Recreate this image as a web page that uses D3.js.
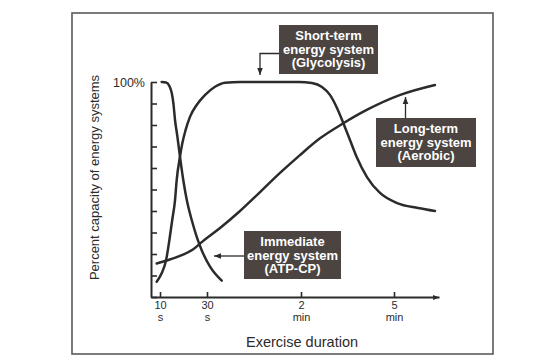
<!DOCTYPE html>
<html>
<head>
<meta charset="utf-8">
<script src="https://cdn.jsdelivr.net/npm/d3@7"></script>
<style>
  html, body { margin: 0; padding: 0; background: #fff; }
  svg { display: block; font-family: "Liberation Sans", Arial, sans-serif; }
</style>
</head>
<body>
<svg id="chart" width="558" height="364"></svg>
<script>
// ---- Data (time in seconds, value in % of capacity) ----
const xBreaks = [6.2, 10, 30, 120, 300, 383];          // non-linear time axis break points
const xTickValues = [10, 30, 120, 300];
const xTickNumbers = ["10", "30", "2", "5"];
const xTickUnits = ["s", "s", "min", "min"];
const yTickValues = [0, 10, 20, 30, 40, 50, 60, 70, 80, 90, 100];
const yTickLabel = "100%";

const atpTime = [10.7, 12.6, 14.0, 15.0, 15.7, 16.4, 17.4, 18.5, 19.9, 21.4, 23.5, 25.6, 27.7, 32.9, 44.1];
const atpValue = [100, 99.8, 98.1, 94.9, 90.1, 82.3, 74.6, 65.3, 54.4, 45.1, 35.8, 28.1, 21.9, 14.1, 7.6];

const glyTime = [8.6, 10.7, 12.6, 14.0, 15.2, 16.4, 17.1, 18.5, 19.5, 20.9, 22.8, 25.6, 29.1, 37.7, 47.3, 61.7, 118, 141, 160.6, 176, 189.7, 201, 214.8, 228, 247.7, 272.9, 305.8, 344.5, 375.5];
const glyValue = [7.1, 11.0, 17.2, 26.5, 35.8, 45.1, 54.4, 65.3, 71.5, 77.7, 83.9, 89.3, 93.9, 97.8, 99.7, 100, 100, 99.5, 97.7, 94, 87.9, 81.4, 73, 65, 55.8, 48.4, 43.7, 41.4, 40];

const aerTime = [8.6, 12.9, 18.5, 24.0, 28.3, 42.5, 61.6, 80.8, 99.9, 119, 156.8, 201.9, 247.2, 311.6, 375.5];
const aerValue = [15.6, 17.0, 19.1, 22.1, 26.0, 32.1, 40.0, 48.8, 57.7, 66.0, 73.8, 80.8, 87.0, 94.0, 98.6];

const labelShort = ["Short-term", "energy system", "(Glycolysis)"];
const labelLong = ["Long-term", "energy system", "(Aerobic)"];
const labelImmediate = ["Immediate", "energy system", "(ATP-CP)"];
const yTitle = "Percent capacity of energy systems";
const xTitle = "Exercise duration";

// ---- Drawing ----
const svg = d3.select("#chart");
const ink = "#2b2b2b";
const boxFill = "#4b4441";

const x = d3.scaleLinear().domain(xBreaks).range([151, 160, 207, 301, 394, 439]);
const y = d3.scaleLinear().domain([0, 100]).range([297, 82]);

const defs = svg.append("defs");
defs.append("marker").attr("id", "arrow").attr("viewBox", "0 0 10 10")
  .attr("refX", 10).attr("refY", 5).attr("markerWidth", 7).attr("markerHeight", 7)
  .attr("markerUnits", "userSpaceOnUse").attr("orient", "auto")
  .append("path").attr("d", "M0,1 L10,5 L0,9 Z").attr("fill", ink);

// frame
svg.append("rect").attr("x", 72).attr("y", 13).attr("width", 421).attr("height", 341)
  .attr("fill", "none").attr("stroke", "#5a5a5a").attr("stroke-width", 1.6);

// y axis
const yAxis = svg.append("g").attr("transform", "translate(151,0)")
  .call(d3.axisLeft(y).tickValues(yTickValues).tickSizeInner(-6).tickSizeOuter(0).tickPadding(6)
    .tickFormat(d => d === 100 ? yTickLabel : ""));
yAxis.select(".domain").attr("stroke", ink).attr("stroke-width", 2);
yAxis.selectAll(".tick line").attr("stroke", ink).attr("stroke-width", 1.6);
yAxis.selectAll(".tick text").attr("font-size", 12.5).attr("fill", ink)
  .attr("font-family", "Liberation Sans, Arial, sans-serif");

// x axis
const xAxis = svg.append("g").attr("transform", "translate(0,297)")
  .call(d3.axisBottom(x).tickValues(xTickValues).tickSizeInner(-5).tickSizeOuter(0).tickFormat(""));
xAxis.select(".domain").attr("stroke", ink).attr("stroke-width", 2).attr("marker-end", "url(#arrow)");
xAxis.selectAll(".tick line").attr("stroke", ink).attr("stroke-width", 1.6);
xAxis.selectAll(".tick").each(function(d, i) {
  const g = d3.select(this);
  g.append("text").attr("y", 12).attr("text-anchor", "middle").attr("fill", ink)
    .attr("font-size", 11).attr("font-family", "Liberation Sans, Arial, sans-serif")
    .text(xTickNumbers[i]);
  g.append("text").attr("y", 24).attr("text-anchor", "middle").attr("fill", ink)
    .attr("font-size", 11).attr("font-family", "Liberation Sans, Arial, sans-serif")
    .text(xTickUnits[i]);
});

// titles
svg.append("text").attr("transform", "translate(99,177.5) rotate(-90)")
  .attr("text-anchor", "middle").attr("font-size", 13).attr("fill", ink).text(yTitle);
svg.append("text").attr("x", 302).attr("y", 347).attr("text-anchor", "middle")
  .attr("font-size", 14.5).attr("fill", ink).text(xTitle);

// curves
const line = d3.line().x(d => x(d[0])).y(d => y(d[1])).curve(d3.curveMonotoneX);
const series = [
  d3.zip(atpTime, atpValue),
  d3.zip(glyTime, glyValue),
  d3.zip(aerTime, aerValue)
];
svg.selectAll("path.curve").data(series).join("path").attr("class", "curve")
  .attr("d", line).attr("fill", "none").attr("stroke", ink).attr("stroke-width", 2.5)
  .attr("stroke-linecap", "round");

// annotation boxes
function box(x0, y0, w, h, lines, cy) {
  svg.append("rect").attr("x", x0).attr("y", y0).attr("width", w).attr("height", h).attr("fill", boxFill);
  const cx = x0 + w / 2;
  lines.forEach((t, i) => {
    svg.append("text").attr("x", cx).attr("y", cy + i * 13.5).attr("text-anchor", "middle")
      .attr("dominant-baseline", "central").attr("font-size", 13).attr("font-weight", "bold")
      .attr("fill", "#fff").text(t);
  });
}
box(279, 25, 99, 49, labelShort, 35.5);
box(376, 118, 100, 49, labelLong, 128.5);
box(244, 231, 97, 48, labelImmediate, 241.5);

// annotation arrows
svg.append("path").attr("d", "M279,53.5 H260 V75").attr("fill", "none").attr("stroke", ink)
  .attr("stroke-width", 1.3).attr("marker-end", "url(#arrow)");
svg.append("path").attr("d", "M405.5,118 V97").attr("fill", "none").attr("stroke", ink)
  .attr("stroke-width", 1.3).attr("marker-end", "url(#arrow)");
svg.append("path").attr("d", "M244,256 H214").attr("fill", "none").attr("stroke", ink)
  .attr("stroke-width", 1.3).attr("marker-end", "url(#arrow)");
</script>
</body>
</html>
